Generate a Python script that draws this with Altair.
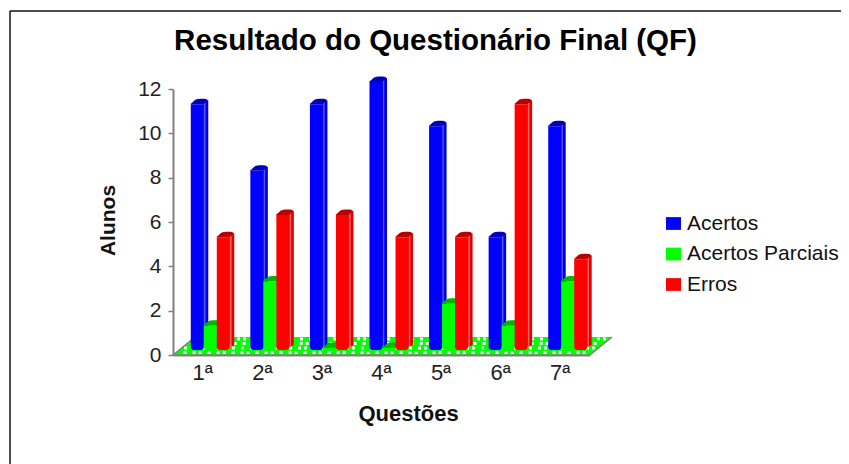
import altair as alt
import pandas as pd

categories = ["1ª", "2ª", "3ª", "4ª", "5ª", "6ª", "7ª"]
acertos = [11, 8, 11, 12, 10, 5, 10]
parciais = [1, 3, 0, 0, 2, 1, 3]
erros = [5, 6, 6, 5, 5, 11, 4]
series_names = ["Acertos", "Acertos Parciais", "Erros"]
front_colors = ["#0000FF", "#00FF00", "#FF0000"]
side_colors = ["#0000E6", "#00E600", "#E60000"]
light_colors = ["#5555FF", "#55FF55", "#FF6666"]
cap_colors = ["#0000B8", "#00B800", "#B80000"]

W, H = 417, 266
FONT = "Liberation Sans"
df = pd.DataFrame({
    "q": categories * 3,
    "serie": sum([[s] * 7 for s in series_names], []),
    "v": acertos + parciais + erros,
})

xq = alt.X("q:N", sort=categories, title="Questões",
           scale=alt.Scale(paddingInner=0, paddingOuter=0),
           axis=alt.Axis(labelAngle=0, labelFont=FONT, labelFontSize=22, labelColor="#222222",
                         tickSize=0, labelPadding=7, domainColor="#808080", domainWidth=2,
                         titleFont=FONT, titleFontSize=22, titleFontWeight="bold", titleColor="#111111",
                         titleX=235, titleY=58, titleAlign="center", titleBaseline="middle"))
yq = alt.Y("v:Q", title="Alunos", scale=alt.Scale(domain=[0, 12], nice=False),
           axis=alt.Axis(values=list(range(0, 13, 2)), grid=False, labelFont=FONT, labelFontSize=21,
                         labelColor="#222222", tickColor="#808080", tickSize=5, tickWidth=1.5,
                         domainColor="#808080", domainWidth=2, labelPadding=7,
                         titleFont=FONT, titleFontSize=21, titleFontWeight="bold", titleColor="#111111",
                         titleX=-65, titleY=131, titleAlign="center", titleBaseline="middle"))
y0 = alt.Y2(datum=0)

bar_layers = []
for i, s in enumerate(series_names):
    d = df[df.serie == s]
    off = -5.5 + 13 * i
    base = alt.Chart(d)
    side = base.mark_bar(size=5, xOffset=off + 8.5, yOffset=-11, y2Offset=-9, color=side_colors[i], orient="vertical",
                         cornerRadiusBottomRight=2).encode(x=xq, y=yq, y2=y0)
    light = base.mark_bar(size=1.5, xOffset=off + 7.5, yOffset=-10, y2Offset=-8, color=light_colors[i],
                          orient="vertical").encode(x=xq, y=yq, y2=y0)
    front = base.mark_bar(size=13, xOffset=off, yOffset=-7, y2Offset=-5, orient="vertical",
                          cornerRadiusBottomLeft=3, cornerRadiusBottomRight=3).encode(
        x=xq, y=yq, y2=y0,
        color=alt.Color("serie:N", scale=alt.Scale(domain=series_names, range=front_colors),
                        legend=alt.Legend(title=None, orient="none", legendX=490, legendY=124,
                                          labelFont=FONT, labelFontSize=21, labelColor="#111111",
                                          symbolType="M-1,-0.85H1V0.85H-1Z", symbolSize=225,
                                          symbolStrokeWidth=0, rowPadding=8.5, labelOffset=3,
                                          labelLimit=400)))
    cap = base.mark_point(shape="M-7,0 L-2,-4.5 Q0,-5.5 3,-5.5 L6.5,-5.5 Q9,-5.5 10,-4.5 L10,-3 L6,0 Z",
                          size=4, filled=True, opacity=1, strokeWidth=0, color=cap_colors[i],
                          xOffset=off, yOffset=-7).encode(x=xq, y=yq)
    bar_layers += [side, light, front, cap]

bars = alt.layer(*bar_layers)

xp = alt.Scale(domain=[0, W], range=[0, W], nice=False, zero=False)
yp = alt.Scale(domain=[0, H], range=[H, 0], nice=False, zero=False)
floor_x = [0, 22, 417, 439]
floor_lo = [0, 0, 0, 18]
floor_hi = [0, 18, 18, 18]
floor = alt.Chart(pd.DataFrame({"x": floor_x, "a": floor_lo, "b": floor_hi})).mark_area(
    color="#00FF00", opacity=1, clip=False).encode(
    x=alt.X("x:Q", scale=xp, axis=None),
    y=alt.Y("a:Q", scale=yp, axis=None),
    y2="b:Q")

edge_x = [0, 417, 0]
edge_x2 = [22, 439, 417]
edge_y = [0, 0, 0]
edge_y2 = [18, 18, 0]
edges = alt.Chart(pd.DataFrame({"x": edge_x, "x2": edge_x2, "y": edge_y, "y2": edge_y2})).mark_rule(
    color="#808080", strokeWidth=1.5).encode(
    x=alt.X("x:Q", scale=xp, axis=None), x2="x2:Q",
    y=alt.Y("y:Q", scale=yp, axis=None), y2="y2:Q")

dot_x, dot_y = [], []
for r, h in enumerate([2.5, 7, 11.5, 16]):
    for k in range(0, 56):
        px = k * 8 + (r % 2) * 4 + (k % 3) + h * 22 / 18
        if h * 22 / 18 + 1 < px < 417 + h * 22 / 18 - 1:
            dot_x.append(px)
            dot_y.append(h)
dots = alt.Chart(pd.DataFrame({"x": dot_x, "y": dot_y})).mark_square(
    color="white", size=9, opacity=1, strokeWidth=0).encode(
    x=alt.X("x:Q", scale=xp, axis=None),
    y=alt.Y("y:Q", scale=yp, axis=None))

frame_h = alt.Chart(pd.DataFrame({"a": [0]})).mark_rule(color="#111111", strokeWidth=1.5).encode(
    x=alt.value(-163), x2=alt.value(680), y=alt.value(-78))
frame_v = alt.Chart(pd.DataFrame({"a": [0]})).mark_rule(color="#111111", strokeWidth=1.5).encode(
    x=alt.value(-163), y=alt.value(-78), y2=alt.value(380))

decor = alt.layer(floor, dots, edges, frame_h, frame_v)

chart = alt.layer(decor, bars).resolve_scale(x="independent", y="independent").properties(
    width=W, height=H,
    autosize=alt.AutoSizeParams(type="none"),
    padding={"left": 165, "top": 81, "right": 251, "bottom": 109},
    title=alt.TitleParams("Resultado do Questionário Final (QF)", font=FONT, fontSize=29.5,
                          fontWeight="bold", color="#000000", anchor="middle", dx=54, dy=50),
).configure_view(stroke=None)

chart.save("out.html", embed_options={"renderer": "svg", "actions": False})
